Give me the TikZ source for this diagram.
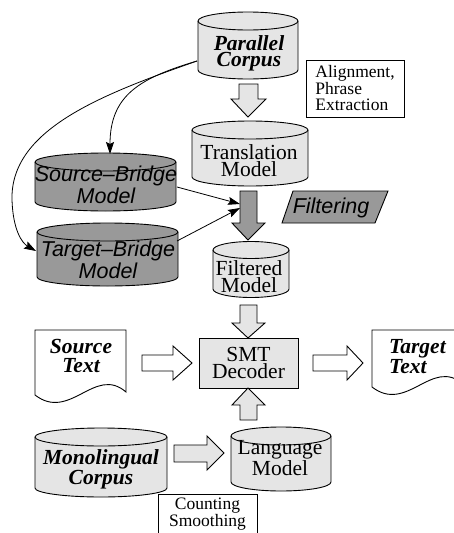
\documentclass[tikz,border=0pt]{standalone}
\usepackage{fontspec}
\setmainfont{Liberation Serif}
\setsansfont{Liberation Sans}
\usetikzlibrary{arrows.meta}
\definecolor{lightfill}{RGB}{229,229,229}
\definecolor{darkfill}{RGB}{153,153,153}
\newcommand\mycyl[6]{%
  \filldraw[fill=#6, line width=0.9pt] (#1-#2,#3) -- (#1-#2,#4)
    arc[start angle=180,end angle=360,x radius=#2pt,y radius=#5pt] -- (#1+#2,#3)
    arc[start angle=0,end angle=180,x radius=#2pt,y radius=#5pt] -- cycle;
  \draw[line width=0.9pt] (#1-#2,#3) arc[start angle=180,end angle=360,x radius=#2pt,y radius=#5pt];
}
\tikzset{
  lbl/.style={align=center, inner sep=0pt, anchor=base},
  bigserif/.style={font=\fontsize{21.5}{#1}\selectfont},
  bigbi/.style={font=\fontsize{21.5}{#1}\selectfont\bfseries\itshape},
  bigsans/.style={font=\fontsize{21.5}{#1}\selectfont\sffamily\itshape},
  smallserif/.style={font=\fontsize{17.5}{#1}\selectfont},
  blockarrow/.style={draw, line width=0.9pt, line join=miter},
  thinarrow/.style={line width=0.8pt, -{Stealth[length=12pt,width=8pt,inset=2pt]}},
}
\begin{document}
\begin{tikzpicture}[x=1pt,y=-1pt]
\useasboundingbox (0,0) rectangle (454,533);

% cylinders
\mycyl{248}{50}{21}{70}{9}{lightfill}
\mycyl{250}{58}{130}{177}{9}{lightfill}
\mycyl{105.5}{70.5}{162}{202}{9}{darkfill}
\mycyl{107.5}{70.5}{232}{277}{9}{darkfill}
\mycyl{251}{38}{250}{289}{8.5}{lightfill}
\mycyl{101}{66}{437}{488}{9}{lightfill}
\mycyl{281}{50}{436}{482}{9}{lightfill}

% cylinder labels (anchor base = last line)
\node[lbl, bigbi=16.7] (pc) at (249,66.7) {Parallel\\Corpus};
\node[lbl, bigserif=17] (tm) at (249,176) {Translation\\Model};
\node[lbl, bigsans=18] (sb) at (106,203) {Source–Bridge\\Model};
\node[lbl, bigsans=17] (tb) at (108,278) {Target–Bridge\\Model};
\node[lbl, bigserif=15] (fm) at (249,292) {Filtered\\Model};
\node[lbl, bigbi=15] (mc) at (101,484) {Monolingual\\Corpus};
\node[lbl, bigserif=11] (lm) at (280,475) {Language\\Model};

% alignment box
\node[draw, line width=0.9pt, smallserif=16.5, align=left, minimum width=98pt, minimum height=57pt, inner sep=0pt] (al) at (355,88.5) {Alignment,\\Phrase\\Extraction};

% counting box
\node[lbl, smallserif=14.5] (cs) at (207.5,526.5) {Counting\\Smoothing};
\draw[line width=0.9pt] (158,540) -- (158,494) -- (257,494) -- (257,540);

% SMT decoder
\node[draw, fill=lightfill, line width=0.9pt, bigserif=17, align=center, minimum width=99pt, minimum height=50pt, inner sep=0pt] (smt) at (248.5,363) {SMT\\Decoder};

% filtering
\filldraw[fill=darkfill, line width=0.9pt] (293,191) -- (388,191) -- (375,223) -- (282,223) -- cycle;
\node[lbl, bigsans=17] (filt) at (331,213) {Filtering};

% documents
\filldraw[fill=white, line width=0.9pt] (35,395) -- (35,330) -- (126,330) -- (126,392)
  .. controls (95,365) and (70,422) .. (35,395);
\node[lbl, bigbi=19] (st) at (81,372) {Source\\Text};
\filldraw[fill=white, line width=0.9pt] (372,387) -- (372,330) -- (463,330) -- (463,384)
  .. controls (432,357) and (407,414) .. (372,387);
\node[lbl, bigbi=20, align=left, anchor=base west] (tt) at (389,373) {Target\\Text};

% block arrows
\filldraw[blockarrow, fill=lightfill] (239,84) -- (258,84) -- (258,99) -- (266,99) -- (248,117) -- (231,99) -- (239,99) -- cycle;
\filldraw[blockarrow, fill=darkfill] (240,191) -- (257,191) -- (257,223) -- (265,223) -- (248,240) -- (232,223) -- (240,223) -- cycle;
\filldraw[blockarrow, fill=lightfill] (240,305) -- (257,305) -- (257,323) -- (265,323) -- (248,338) -- (232,323) -- (240,323) -- cycle;
\filldraw[blockarrow, fill=lightfill] (240,420) -- (257,420) -- (257,405) -- (265,405) -- (248,388) -- (232,405) -- (240,405) -- cycle;
\filldraw[blockarrow, fill=white] (142,355) -- (173,355) -- (173,346) -- (192,363) -- (173,380) -- (173,371) -- (142,371) -- cycle;
\filldraw[blockarrow, fill=white] (313,355) -- (347,355) -- (347,346) -- (363,363) -- (347,380) -- (347,371) -- (313,371) -- cycle;
\filldraw[blockarrow, fill=lightfill] (174,445) -- (207,445) -- (207,436) -- (224,453) -- (207,470) -- (207,462) -- (174,462) -- cycle;

% thin arrows
\coordinate (pcl) at (197,61);
\coordinate (sbt) at (110,154);
\coordinate (tbl) at (36,251);
\coordinate (sbr) at (177,187);
\coordinate (tbr) at (177,241);
\coordinate (ga1) at (240,204);
\coordinate (ga2) at (240,208);
\draw[thinarrow] (pcl) .. controls (140,78) and (110,95) .. (sbt);
\draw[thinarrow] (pcl) .. controls (100,95) and (10,130) .. (12,200) .. controls (13,230) and (22,243) .. (tbl);
\draw[thinarrow] (sbr) -- (ga1);
\draw[thinarrow] (tbr) -- (ga2);
\end{tikzpicture}
\end{document}
